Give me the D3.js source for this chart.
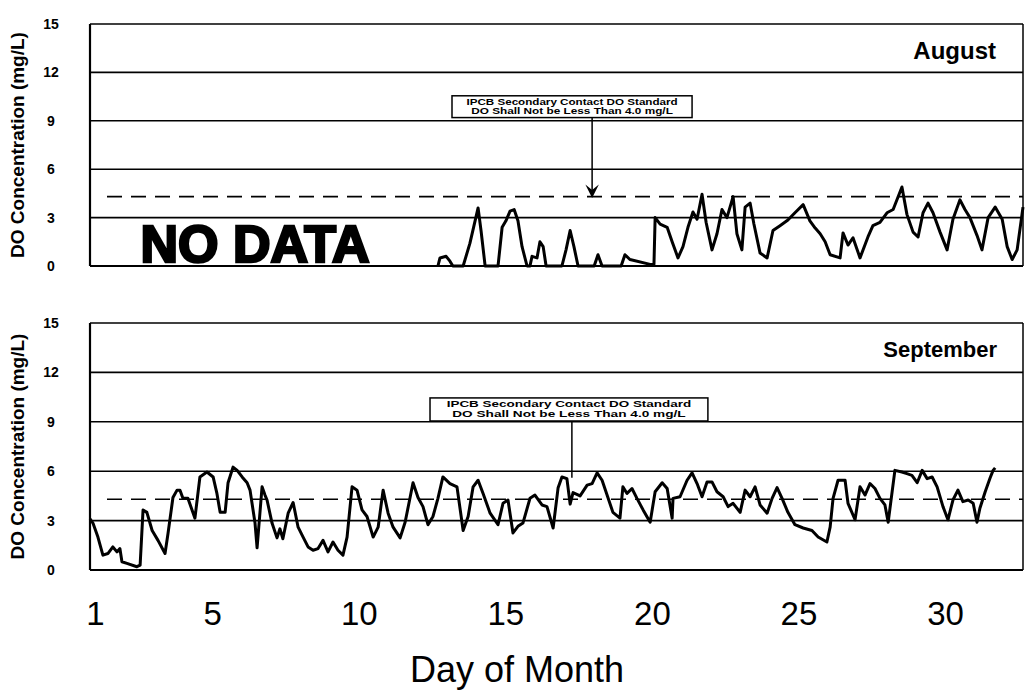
<!DOCTYPE html>
<html><head><meta charset="utf-8">
<script src="https://cdn.jsdelivr.net/npm/d3@7"></script>
<style>body{margin:0;background:#fff}svg{display:block}</style>
</head><body>
<svg id="c" width="1025" height="693"></svg>
<script>
// ---------- data ----------
const yTicks = [0, 3, 6, 9, 12, 15];
const xTickValues = [1, 5, 10, 15, 20, 25, 30];
const monthNames = ["August", "September"];
const standardLevel = 4.3; // dashed line as drawn
const noteLines = ["IPCB Secondary Contact DO Standard", "DO Shall Not be Less Than 4.0 mg/L"];

const augDay = [12.70,12.77,12.98,13.11,13.21,13.56,13.79,13.93,14.07,14.17,14.31,14.75,14.89,15.02,15.16,15.30,15.43,15.57,15.74,15.84,15.91,16.08,16.18,16.29,16.39,16.93,17.07,17.21,17.34,17.48,18.03,18.16,18.30,18.95,19.08,19.25,19.94,20.07,20.11,20.28,20.52,20.69,20.89,21.06,21.23,21.40,21.54,21.71,21.85,22.05,22.22,22.39,22.56,22.77,22.90,23.07,23.18,23.35,23.48,23.69,23.93,24.13,24.37,24.64,24.88,25.16,25.39,25.57,25.74,25.91,26.08,26.42,26.52,26.69,26.86,27.10,27.37,27.54,27.78,28.02,28.23,28.53,28.70,28.91,29.08,29.25,29.42,29.59,29.83,30.07,30.27,30.51,30.68,30.85,31.09,31.26,31.47,31.71,31.95,32.12,32.29,32.46,32.66];
const augDO = [0,0.5,0.6,0.3,0,0,1.4,2.5,3.6,2.2,0,0,2.4,2.8,3.4,3.5,2.8,1.2,0,0,0.6,0.5,1.5,1.2,0,0,1.0,2.2,1.2,0,0,0.7,0,0,0.7,0.4,0.1,0.1,3.0,2.6,2.4,1.5,0.5,1.2,2.4,3.35,2.9,4.45,2.7,1.0,2.0,3.5,3.0,4.3,2.0,1.0,3.65,3.9,2.6,0.8,0.5,2.2,2.5,2.85,3.3,3.8,2.8,2.35,2.0,1.5,0.7,0.5,2.05,1.3,1.75,0.5,1.8,2.5,2.7,3.3,3.5,4.9,3.2,2.1,1.8,3.3,3.9,3.3,2.1,1.0,2.9,4.1,3.5,3.0,1.9,1.0,3.0,3.65,2.9,1.2,0.4,1.0,3.65];

const sepDay = [0.83,0.93,1.10,1.27,1.44,1.61,1.75,1.85,1.92,2.09,2.43,2.54,2.64,2.77,2.95,3.15,3.39,3.49,3.66,3.80,3.90,4.00,4.17,4.41,4.58,4.82,5.03,5.16,5.27,5.44,5.54,5.71,5.85,6.02,6.19,6.29,6.46,6.53,6.70,6.80,6.87,7.04,7.21,7.31,7.41,7.59,7.76,7.93,8.10,8.27,8.44,8.61,8.78,8.95,9.12,9.29,9.46,9.60,9.77,9.94,10.11,10.28,10.49,10.66,10.83,11.00,11.17,11.41,11.58,11.75,11.85,12.02,12.19,12.36,12.53,12.70,12.87,13.11,13.35,13.56,13.73,13.90,14.07,14.24,14.48,14.75,14.92,15.09,15.26,15.43,15.60,15.84,16.01,16.25,16.42,16.63,16.80,16.93,17.10,17.21,17.31,17.55,17.79,17.96,18.13,18.30,18.47,18.67,18.91,19.01,19.15,19.32,19.49,19.70,19.94,20.11,20.35,20.52,20.69,20.72,20.96,21.20,21.37,21.54,21.71,21.88,22.05,22.22,22.43,22.60,22.77,23.01,23.18,23.35,23.52,23.69,23.93,24.10,24.27,24.44,24.64,24.88,25.16,25.46,25.67,25.97,26.08,26.18,26.35,26.59,26.69,26.93,27.10,27.27,27.44,27.61,27.78,27.95,28.06,28.29,28.53,28.70,28.87,29.05,29.22,29.39,29.56,29.73,29.93,30.10,30.27,30.44,30.61,30.79,30.96,31.09,31.19,31.37,31.54,31.64,31.71];
const sepDO = [3.1,2.85,2.0,0.9,1.0,1.4,1.1,1.3,0.5,0.4,0.2,0.3,3.65,3.5,2.4,1.8,1.0,2.2,4.4,4.85,4.85,4.35,4.35,3.15,5.65,5.95,5.65,4.65,3.5,3.5,5.3,6.25,6.05,5.65,5.3,4.85,2.85,1.35,5.05,4.55,4.25,2.85,1.95,2.5,1.9,3.45,4.1,2.6,2.0,1.4,1.2,1.3,1.8,1.1,1.7,1.2,0.9,2.0,5.05,4.85,3.65,3.25,2.0,2.6,4.85,3.45,2.6,1.95,2.9,4.4,5.3,4.4,3.85,2.75,3.25,4.35,5.65,5.25,5.05,2.4,3.25,5.05,5.45,4.65,3.45,2.75,4.05,4.25,2.25,2.65,2.85,4.35,4.55,3.95,3.85,2.55,5.0,5.65,5.55,4.0,4.7,4.5,5.15,5.25,5.9,5.45,4.55,3.5,3.15,5.05,4.65,4.95,4.35,3.65,2.9,4.75,5.3,4.95,3.15,4.35,4.45,5.45,5.9,5.25,4.45,5.35,5.35,4.75,4.45,3.85,4.05,3.5,4.85,4.45,5.05,3.95,3.45,4.35,5.0,4.35,3.5,2.75,2.55,2.4,2.0,1.7,2.6,4.35,5.45,5.45,4.05,3.05,5.05,4.55,5.25,4.95,4.35,3.95,2.9,6.05,5.95,5.85,5.75,5.3,6.05,5.55,5.65,5.05,3.85,3.05,4.25,4.85,4.15,4.25,4.05,2.9,3.75,4.75,5.6,6.05,6.2];

// ---------- layout ----------
const svg = d3.select("#c");
const x = d3.scaleLinear().domain([0.83, 32.66]).range([90, 1023]);
const panels = [
  {top: 24, bottom: 266, day: augDay, val: augDO, name: monthNames[0], nameY: 59, nameX: 996, nameSize: 24,
   box: {x0: 13.18, x1: 21.37, y0: 10.55, y1: 9.2}, pointer: {d: 17.96, from: 9.2, to: standardLevel, arrow: true}},
  {top: 323, bottom: 570, day: sepDay, val: sepDO, name: monthNames[1], nameY: 357, nameX: 997, nameSize: 22,
   box: {x0: 12.43, x1: 21.91, y0: 10.45, y1: 9.05}, pointer: {d: 17.27, from: 9.05, to: 5.6, arrow: false}}
];

svg.append("defs").append("marker").attr("id","ah").attr("viewBox","0 0 10 10")
  .attr("refX",9).attr("refY",5).attr("markerWidth",9).attr("markerHeight",9).attr("orient","auto")
  .append("path").attr("d","M0,0 L10,5 L0,10 L4,5 Z").attr("fill","#000");

panels.forEach((p, i) => {
  const y = d3.scaleLinear().domain([0, 15]).range([p.bottom, p.top]);
  const g = svg.append("g");

  // gridlines
  g.selectAll("line.grid").data(yTicks.filter(t => t > 0)).join("line")
    .attr("x1", x.range()[0]).attr("x2", x.range()[1])
    .attr("y1", d => y(d)).attr("y2", d => y(d))
    .attr("stroke", "#000").attr("stroke-width", 1.6);
  // frame
  g.append("line").attr("x1", 90).attr("x2", 90).attr("y1", y(15)).attr("y2", y(0)).attr("stroke","#000").attr("stroke-width",2.2);
  g.append("line").attr("x1", 90).attr("x2", 1023).attr("y1", y(0)).attr("y2", y(0)).attr("stroke","#000").attr("stroke-width",2.2);
  g.append("line").attr("x1", 1023).attr("x2", 1023).attr("y1", y(15)).attr("y2", y(0)).attr("stroke","#000").attr("stroke-width",1.5);

  // dashed standard line
  g.append("line").attr("x1", 107).attr("x2", 1023)
    .attr("y1", y(standardLevel)).attr("y2", y(standardLevel))
    .attr("stroke","#000").attr("stroke-width",1.6).attr("stroke-dasharray","15,9");

  // y tick labels
  g.selectAll("text.yt").data(yTicks).join("text")
    .attr("x", 51).attr("y", d => y(d)).attr("dy","0.36em")
    .attr("text-anchor","middle").attr("font-family","Liberation Sans, Arial, sans-serif")
    .attr("font-weight","bold").attr("font-size",14).text(d => d);

  // y axis title
  g.append("text").attr("transform", `translate(24,${(p.top + p.bottom)/2}) rotate(-90)`)
    .attr("text-anchor","middle").attr("font-family","Liberation Sans, Arial, sans-serif")
    .attr("font-weight","bold").attr("font-size",19).text("DO Concentration (mg/L)");

  // month
  g.append("text").attr("x", p.nameX).attr("y", p.nameY).attr("text-anchor","end")
    .attr("font-family","Liberation Sans, Arial, sans-serif").attr("font-weight","bold")
    .attr("font-size", p.nameSize).text(p.name);

  // data line
  const pts = p.day.map((d, k) => [d, p.val[k]]);
  g.append("path").datum(pts)
    .attr("d", d3.line().x(d => x(d[0])).y(d => y(d[1])))
    .attr("fill","none").attr("stroke","#000").attr("stroke-width",3).attr("stroke-linejoin","round");

  // annotation box
  const b = p.box;
  g.append("rect").attr("x", x(b.x0)).attr("y", y(b.y0))
    .attr("width", x(b.x1) - x(b.x0)).attr("height", y(b.y1) - y(b.y0))
    .attr("fill","#fff").attr("stroke","#000").attr("stroke-width",1.5);
  noteLines.forEach((t, k) => {
    const ty = y(b.y0) + (y(b.y1) - y(b.y0)) * (k === 0 ? 0.4 : 0.82);
    g.append("text").attr("x", (x(b.x0) + x(b.x1))/2).attr("y", ty)
      .attr("text-anchor","middle").attr("font-family","Liberation Sans, Arial, sans-serif")
      .attr("font-weight","bold").attr("font-size", 8.5)
      .attr("textLength", (x(b.x1) - x(b.x0)) * (k === 0 ? 0.88 : 0.84)).attr("lengthAdjust","spacingAndGlyphs")
      .text(t);
  });
  const pt = p.pointer;
  const ln = g.append("line").attr("x1", x(pt.d)).attr("x2", x(pt.d))
    .attr("y1", y(pt.from)).attr("y2", y(pt.to)).attr("stroke","#000").attr("stroke-width",1.5);
  if (pt.arrow) ln.attr("marker-end","url(#ah)");

  // NO DATA label (August only)
  if (i === 0) {
    g.append("text").attr("x", x(6.46)).attr("y", y(0.25)).attr("text-anchor","middle")
      .attr("font-family","Liberation Sans, Arial, sans-serif").attr("font-weight","bold")
      .attr("font-size", 52).attr("stroke","#000").attr("stroke-width",2.6).text("NO DATA");
  }
});

// x axis (bottom panel)
const xAxis = d3.axisBottom(x).tickValues(xTickValues).tickSize(0).tickPadding(0).tickFormat(d3.format("d"));
const ax = svg.append("g").attr("transform","translate(0,600)").call(xAxis);
ax.select(".domain").remove();
ax.selectAll("text").attr("font-family","Liberation Sans, Arial, sans-serif").attr("font-size",33)
  .attr("fill","#000").attr("dy","0.75em");

svg.append("text").attr("x", 517).attr("y", 682).attr("text-anchor","middle")
  .attr("font-family","Liberation Sans, Arial, sans-serif").attr("font-size",36).text("Day of Month");
</script>
</body></html>
